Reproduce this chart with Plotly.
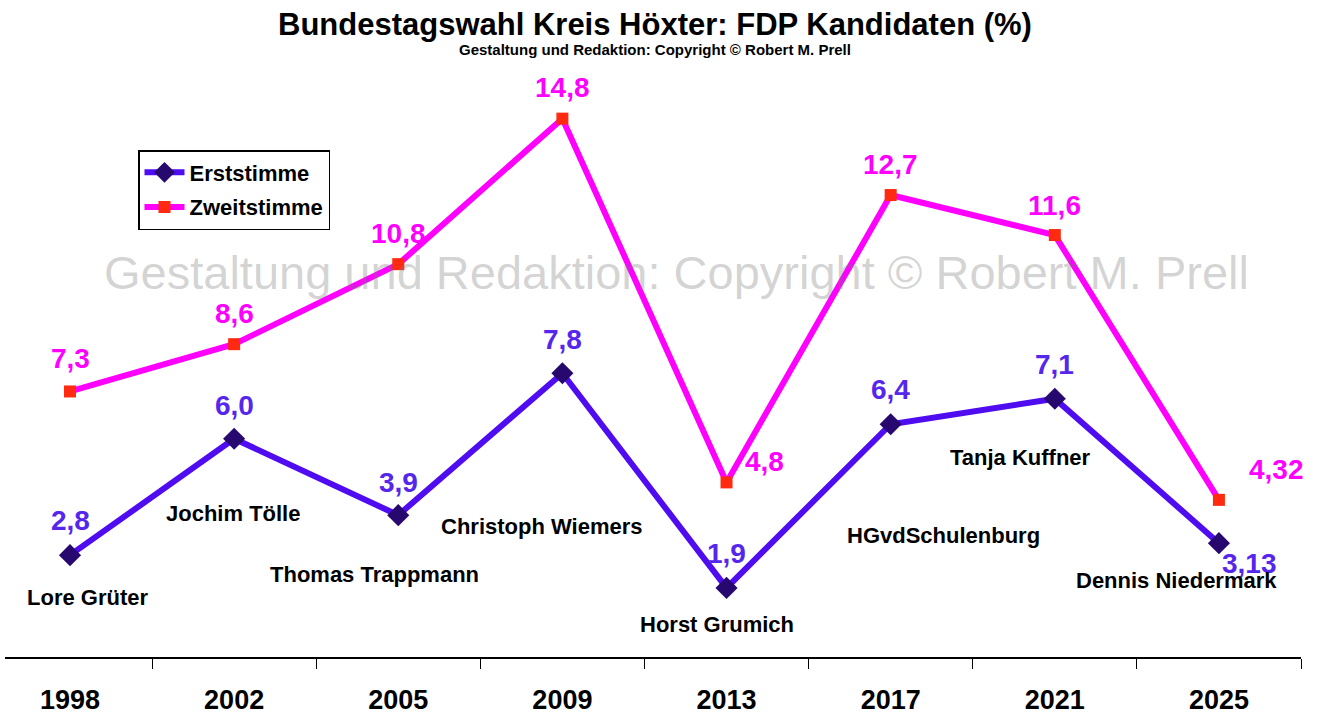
import plotly.graph_objects as go

years = ["1998", "2002", "2005", "2009", "2013", "2017", "2021", "2025"]
erststimme = [2.8, 6.0, 3.9, 7.8, 1.9, 6.4, 7.1, 3.13]
zweitstimme = [7.3, 8.6, 10.8, 14.8, 4.8, 12.7, 11.6, 4.32]
kandidaten = ["Lore Grüter", "Jochim Tölle", "Thomas Trappmann", "Christoph Wiemers",
              "Horst Grumich", "HGvdSchulenburg", "Tanja Kuffner", "Dennis Niedermark"]

# label offsets in pixels (style)
erst_lbl_off = [(0, 35), (0, 33), (0, 33), (0, 34), (0, 34), (0, 35), (0, 34), (31, -20)]
zweit_lbl_off = [(0, 33), (0, 31), (0, 31), (0, 31), (38, 21), (0, 31), (0, 30), (58, 30)]
name_off = [(17, -42), (-1, -75), (-24, -59), (-20, -153), (-10, -37), (53, -111), (-34, -59), (-42, -37)]

ERST_LINE = "#4F0CF0"
ERST_MARK = "#26086E"
ERST_TXT = "#5526EC"
ZW_LINE = "#FF00FF"
ZW_MARK = "#FF2A10"
FONT = "Liberation Sans, Arial, sans-serif"


def fmt(v):
    s = f"{v:.1f}" if abs(round(v, 1) - v) < 1e-9 else f"{v:.2f}"
    return s.replace(".", ",")


fig = go.Figure()
fig.add_trace(go.Scatter(
    x=years, y=erststimme, name="<b>Erststimme</b>", mode="lines+markers",
    legendgroup="a",
    line=dict(color=ERST_LINE, width=6),
    marker=dict(symbol="diamond", size=17, color=ERST_MARK),
))
fig.add_trace(go.Scatter(
    x=years, y=zweitstimme, name="<b>Zweitstimme</b>", mode="lines+markers",
    legendgroup="b",
    line=dict(color=ZW_LINE, width=6),
    marker=dict(symbol="square", size=12, color=ZW_MARK),
))

ann = []
for i, y in enumerate(years):
    dx, dy = erst_lbl_off[i]
    ann.append(dict(x=i, y=erststimme[i], text=f"<b>{fmt(erststimme[i])}</b>", showarrow=False,
                    xanchor="center", yanchor="middle",
                    xshift=dx, yshift=dy, font=dict(family=FONT, size=28, color=ERST_TXT)))
    dx, dy = zweit_lbl_off[i]
    ann.append(dict(x=i, y=zweitstimme[i], text=f"<b>{fmt(zweitstimme[i])}</b>", showarrow=False,
                    xanchor="center", yanchor="middle",
                    xshift=dx, yshift=dy, font=dict(family=FONT, size=28, color=ZW_LINE)))
    dx, dy = name_off[i]
    ann.append(dict(x=i, y=erststimme[i], text=f"<b>{kandidaten[i]}</b>", showarrow=False,
                    xanchor="center", yanchor="middle",
                    xshift=dx, yshift=dy, font=dict(family=FONT, size=22, color="#000000")))

# title & subtitle
ann.append(dict(xref="paper", yref="paper", x=(655 - 5) / 1296, y=(657 - 24) / 582,
                xanchor="center", yanchor="middle",
                text="<b>Bundestagswahl Kreis Höxter: FDP Kandidaten (%)</b>", showarrow=False,
                font=dict(family=FONT, size=31, color="#000000")))
ann.append(dict(xref="paper", yref="paper", x=(655 - 5) / 1296, y=(657 - 50) / 582,
                xanchor="center", yanchor="middle",
                text="<b>Gestaltung und Redaktion: Copyright © Robert M. Prell</b>", showarrow=False,
                font=dict(family=FONT, size=15, color="#000000")))
# watermark
ann.append(dict(xref="paper", yref="paper", x=(676 - 5) / 1296, y=(657 - 272) / 582,
                xanchor="center", yanchor="middle",
                text="Gestaltung und Redaktion: Copyright © Robert M. Prell", showarrow=False,
                font=dict(family=FONT, size=47, color="rgba(120,120,120,0.32)")))

fig.update_layout(
    width=1330, height=715,
    margin=dict(l=5, r=29, t=75, b=58),
    paper_bgcolor="white", plot_bgcolor="white",
    font=dict(family=FONT),
    showlegend=True,
    legend=dict(
        x=(138 - 5) / 1296, y=(657 - 150) / 582, xanchor="left", yanchor="top",
        bgcolor="white", bordercolor="#000000", borderwidth=1.5,
        font=dict(family=FONT, size=22, color="#000000"),
        itemwidth=40, traceorder="grouped", tracegroupgap=3,
    ),
    annotations=ann,
    xaxis=dict(
        type="category", range=[-0.396, 7.5], tickson="boundaries",
        ticks="outside", ticklen=10, tickcolor="#000000", tickwidth=1,
        showline=True, linecolor="#000000", linewidth=2,
        showgrid=False, zeroline=False, automargin=False,
        tickfont=dict(family=FONT, size=27, color="#000000"),
        ticklabelstandoff=18,
        tickvals=years, ticktext=[f"<b>{y}</b>" for y in years],
    ),
    yaxis=dict(range=[0, 16], visible=False, showgrid=False, zeroline=False, automargin=False),
)

fig.write_html("out.html", post_script="document.body.style.margin='0';",
               config={"displayModeBar": False})
